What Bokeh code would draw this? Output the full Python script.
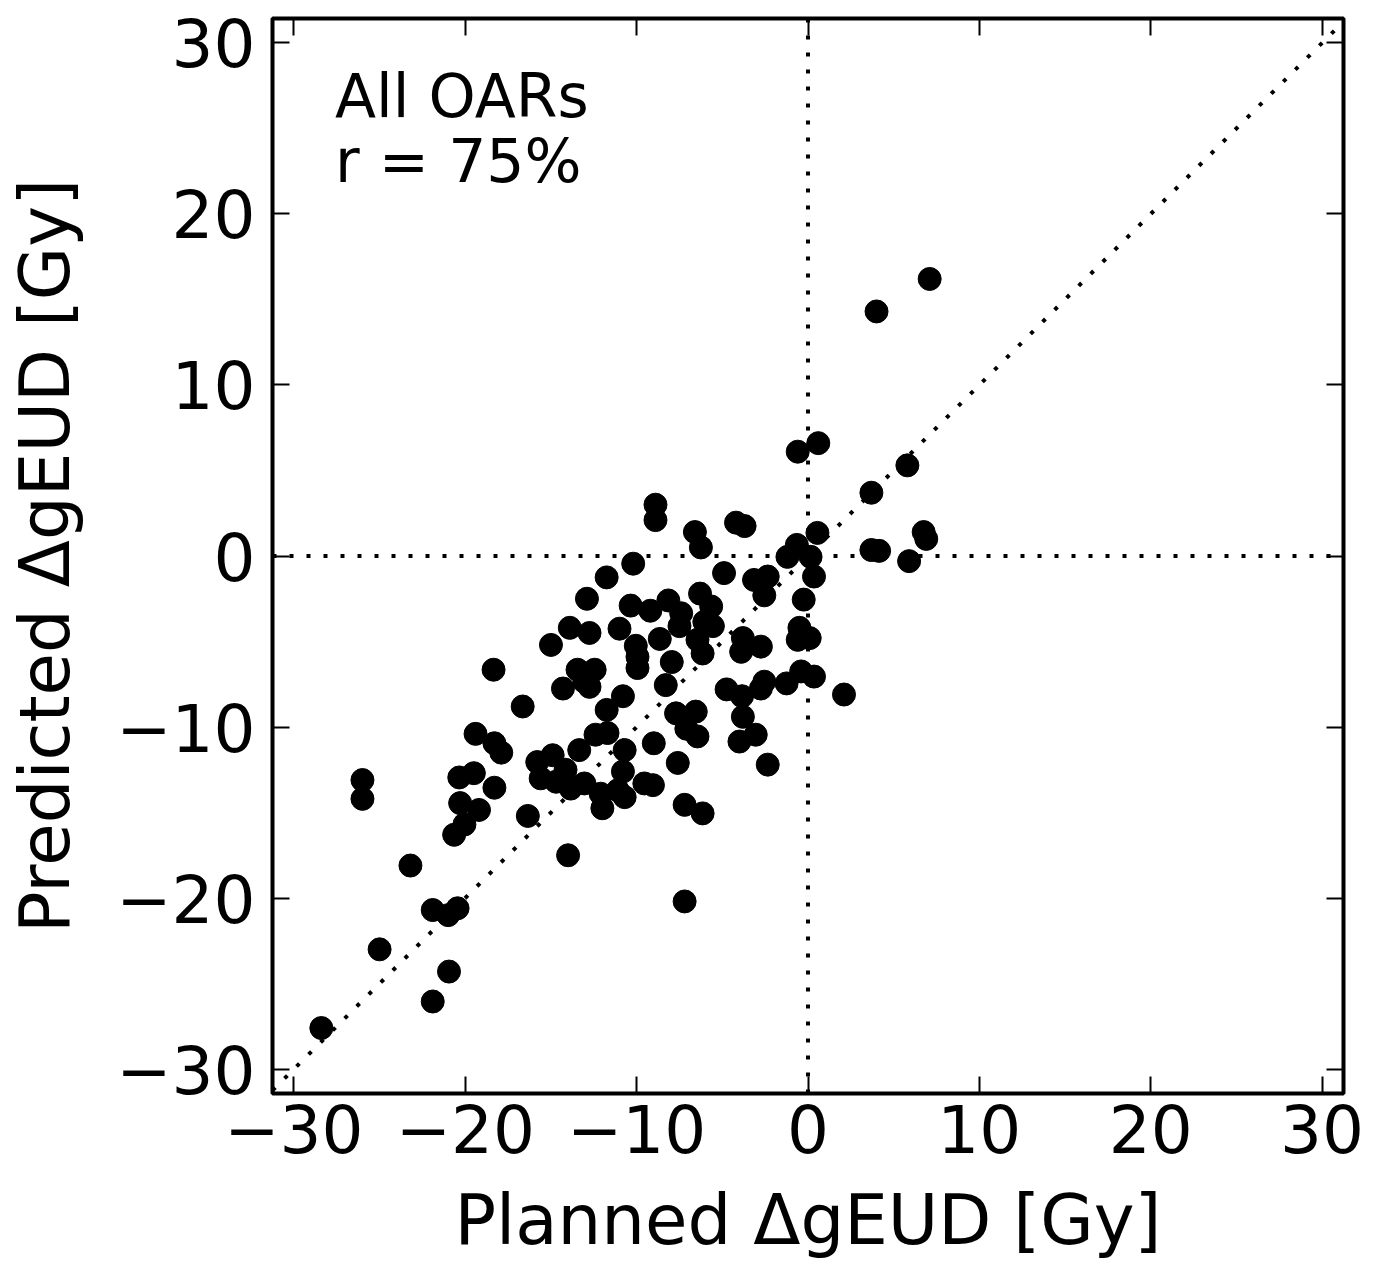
from bokeh.plotting import figure
from bokeh.models import Range1d, LinearAxis, FixedTicker, Span
from bokeh.embed import file_html
from bokeh.resources import INLINE
from bokeh.core.properties import value

# Planned vs predicted change in gEUD (Gy), all OARs
planned = [7.1, 4.0, -0.6, 0.6, 5.8, 3.7, -8.9, -8.9, -6.6, -6.25,
           -4.2, -3.7, 0.55, -0.65, -1.2, 0.15, 3.7, 4.15, 6.75, 6.9,
           5.9, 0.35, -0.25, -10.2, -11.75, -12.9, -10.35, -9.2, -8.15, -13.9,
           -12.75, -11.0, -8.65, -15.0, -10.05, -9.95, -9.95, -7.95, -18.35, -13.45,
           -12.45, -13.05, -14.3, -12.75, -8.3, -10.8, -11.75, -16.65, -4.9, -3.15,
           -2.35, -2.55, -6.3, -5.65, -7.4, -6.05, -5.55, -7.5, -6.45, -6.15,
           -6.55, -3.8, -2.75, -3.9, -0.5, 0.1, -0.6, -2.55, -1.25, -0.4,
           0.35, -4.75, -3.85, -2.75, 2.1, -7.7, -7.1, -6.45, -3.8, -3.05,
           -4.0, -2.35, -7.6, -9.0, -7.2, -6.15, -7.2, -19.4, -18.3, -17.9,
           -20.35, -19.5, -18.3, -20.3, -19.2, -20.05, -20.65, -16.35, -26.0, -26.0,
           -23.2, -14.0, -21.9, -21.0, -20.45, -25.0, -20.95, -21.9, -28.4, -15.8,
           -14.9, -15.6, -14.7, -14.15, -13.85, -13.35, -12.4, -11.7, -10.7, -10.8,
           -9.55, -9.05, -10.7, -12.0, -13.05, -12.1, -11.1]
predicted = [16.2, 14.3, 6.1, 6.6, 5.3, 3.7, 3.0, 2.1, 1.4, 0.5,
             1.95, 1.75, 1.35, 0.65, -0.05, -0.05, 0.35, 0.3, 1.4, 1.0,
             -0.3, -1.2, -2.55, -0.45, -1.25, -2.5, -2.9, -3.2, -2.6, -4.2,
             -4.5, -4.25, -4.85, -5.2, -5.25, -5.9, -6.55, -6.2, -6.65, -6.65,
             -6.65, -7.35, -7.75, -7.65, -7.55, -8.2, -9.0, -8.8, -1.0, -1.4,
             -1.2, -2.3, -2.2, -2.95, -3.35, -3.85, -4.1, -4.1, -4.9, -5.7,
             -9.1, -4.8, -5.3, -5.6, -4.2, -4.8, -4.9, -7.35, -7.45, -6.75,
             -7.05, -7.8, -8.2, -7.75, -8.1, -9.2, -10.1, -10.55, -9.4, -10.45,
             -10.85, -12.2, -12.1, -10.95, -14.55, -15.05, -20.2, -10.4, -10.95, -11.5,
             -12.95, -12.7, -13.55, -14.45, -14.85, -15.7, -16.3, -15.2, -13.1, -14.2,
             -18.1, -17.5, -20.7, -21.0, -20.6, -23.0, -24.3, -26.05, -27.6, -12.05,
             -11.65, -13.0, -13.2, -12.5, -13.6, -11.35, -10.45, -10.35, -11.35, -12.6,
             -13.3, -13.4, -14.1, -14.75, -13.3, -13.9, -13.7]

ticks = [-30, -20, -10, 0, 10, 20, 30]
tick_labels = {t: ("\u2212%d" % -t if t < 0 else "%d" % t) for t in ticks}
x_lim = (-31.25, 31.25)
y_lim = (-31.43, 31.43)
annotation_lines = ["All OARs", "r = 75%"]

FONT = "DejaVu Sans"

p = figure(width=1380, height=1269, output_backend="svg", toolbar_location=None,
           x_range=Range1d(*x_lim), y_range=Range1d(*y_lim),
           min_border_left=272, min_border_right=37, min_border_top=18,
           min_border_bottom=176,
           x_axis_label="Planned \u0394gEUD [Gy]",
           y_axis_label="Predicted \u0394gEUD [Gy]")
p.grid.visible = False
p.background_fill_color = "white"
p.border_fill_color = "white"
p.outline_line_color = "black"
p.outline_line_width = 4
p.outline_line_alpha = 1.0

p.add_layout(LinearAxis(), "above")
p.add_layout(LinearAxis(), "right")

for ax in p.axis:
    ax.ticker = FixedTicker(ticks=ticks)
    ax.major_tick_in = 17
    ax.major_tick_out = 0
    ax.major_tick_line_width = 2
    ax.major_tick_line_color = "black"
    ax.minor_tick_line_color = None
    ax.axis_line_color = None
    ax.major_label_overrides = dict(tick_labels)
    ax.major_label_text_font = FONT
    ax.major_label_text_color = "black"
    ax.major_label_text_font_size = "66px"
    ax.axis_label_text_font = FONT
    ax.axis_label_text_font_size = "69px"
    ax.axis_label_text_font_style = "normal"
    ax.axis_label_text_color = "black"

for ax in p.above + p.right:
    ax.major_label_text_font_size = "0px"
    ax.major_label_text_color = None
    ax.major_label_standoff = 0

bottom_axis = p.below[0]
left_axis = p.left[0]
bottom_axis.major_label_standoff = 10
bottom_axis.axis_label_standoff = 24
left_axis.major_label_standoff = 17
left_axis.axis_label_standoff = 28

dot = dict(line_color="black", line_width=4, line_dash="4 13")
p.add_layout(Span(location=0, dimension="height", **dot))
p.add_layout(Span(location=0, dimension="width", **dot))
p.line(x=[x_lim[0], x_lim[1]], y=[x_lim[0], x_lim[1]], **dot)

p.scatter(planned, predicted, size=23, fill_color="black", line_color="black",
          line_width=1)

p.text(x=[-27.6, -27.6], y=[26.9, 23.1], text=annotation_lines,
       text_font=value(FONT), text_font_size="60px", text_color="black",
       text_baseline="alphabetic", text_align="left")

open("out.html", "w").write(file_html(p, INLINE))
